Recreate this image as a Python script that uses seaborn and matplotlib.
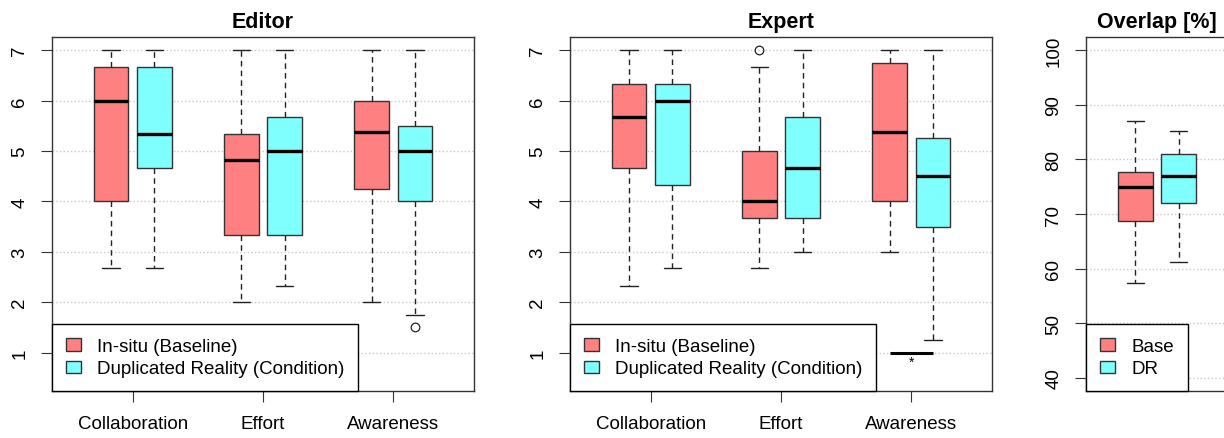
import numpy as np
import pandas as pd
import matplotlib
matplotlib.use("Agg")
import matplotlib.pyplot as plt
from matplotlib.patches import Patch
import seaborn as sns

# ---------------------------------------------------------------- data
categories = ["Collaboration", "Effort", "Awareness"]
groups = ["In-situ (Baseline)", "Duplicated Reality (Condition)"]
overlap_groups = ["Base", "DR"]

# five-number summaries: lower whisker, Q1, median, Q3, upper whisker
editor_insitu = [[2.67, 4.00, 6.00, 6.67, 7.00],
                 [2.00, 3.33, 4.83, 5.33, 7.00],
                 [2.00, 4.25, 5.38, 6.00, 7.00]]
editor_dr = [[2.67, 4.67, 5.33, 6.67, 7.00],
             [2.33, 3.33, 5.00, 5.67, 7.00],
             [1.75, 4.00, 5.00, 5.50, 7.00]]
editor_outlier_cat = ["Awareness"]
editor_outlier_grp = [1]
editor_outlier_val = [1.5]

expert_insitu = [[2.33, 4.67, 5.67, 6.33, 7.00],
                 [2.67, 3.67, 4.00, 5.00, 6.67],
                 [3.00, 4.00, 5.38, 6.75, 7.00]]
expert_dr = [[2.67, 4.33, 6.00, 6.33, 7.00],
             [3.00, 3.67, 4.67, 5.67, 7.00],
             [1.25, 3.50, 4.50, 5.25, 7.00]]
expert_outlier_cat = ["Effort"]
expert_outlier_grp = [0]
expert_outlier_val = [7.0]
expert_sig_cat = "Awareness"
expert_sig_level = 1.0

overlap_base = [57.4, 68.7, 75.0, 77.6, 87.0]
overlap_dr = [61.2, 72.1, 77.0, 80.9, 85.2]

# ---------------------------------------------------------------- style
sns.set_style("ticks")
plt.rcParams["font.family"] = ["Liberation Sans", "DejaVu Sans"]
plt.rcParams["text.color"] = "black"

RED = "#FF8080"
CYAN = "#80FFFF"
EDGE = "#333333"
FS = 13.5
WIDTH = 2 / 3
GAP = 0.2
OFFSET = WIDTH / 4  # centre of each hue box relative to its category


def long_frame(cats, grps, series):
    rows = []
    for gi, g in enumerate(grps):
        for ci, c in enumerate(cats):
            for v in series[gi][ci]:
                rows.append({"category": c, "group": g, "value": v})
    return pd.DataFrame(rows)


def draw_boxes(ax, df, cats, grps):
    sns.boxplot(data=df, x="category", y="value", hue="group",
                order=cats, hue_order=grps, palette=[RED, CYAN],
                width=WIDTH, gap=GAP, whis=(0, 100), showfliers=False,
                saturation=1, linewidth=1.0, linecolor=EDGE,
                medianprops=dict(color="black", linewidth=2.4),
                whiskerprops=dict(linestyle=(0, (4, 3)), linewidth=1.0, color="#222222"),
                capprops=dict(linewidth=1.0, color="#222222"),
                legend=False, ax=ax)


def style_axes(ax, title, yticks, ylim, xlim):
    ax.set_xlim(*xlim)
    ax.set_ylim(*ylim)
    ax.set_yticks(yticks)
    ax.set_yticklabels([str(t) for t in yticks])
    ax.yaxis.grid(True, linestyle=":", color="#C8C8C8", linewidth=1.0)
    ax.xaxis.grid(False)
    ax.set_axisbelow(True)
    ax.set_xlabel("")
    ax.set_ylabel("")
    ax.set_title(title, fontsize=15.5, fontweight="bold", pad=7, color="black")
    for s in ax.spines.values():
        s.set_visible(True)
        s.set_color(EDGE)
        s.set_linewidth(1.0)
    ax.tick_params(axis="both", direction="out", length=8, width=0.8,
                   color=EDGE, labelsize=FS, labelcolor="black")
    ax.tick_params(axis="y", labelrotation=90, pad=9)
    ax.tick_params(axis="x", pad=9.5)
    for lbl in ax.get_yticklabels():
        lbl.set_va("center")


def add_legend(ax, labels):
    handles = [Patch(facecolor=c, edgecolor=EDGE, linewidth=1.0) for c in (RED, CYAN)]
    leg = ax.legend(handles, labels, loc="lower left", bbox_to_anchor=(0, 0),
                    borderaxespad=0, fontsize=FS, frameon=True, fancybox=False,
                    framealpha=1, edgecolor="black", handlelength=0.8,
                    handleheight=0.65, handletextpad=0.9, borderpad=0.72,
                    labelspacing=0.3)
    leg.get_frame().set_linewidth(1.0)
    leg.set_zorder(5)


def add_outliers(ax, cats, cat_list, grp_list, vals):
    for c, g, v in zip(cat_list, grp_list, vals):
        x = cats.index(c) + (OFFSET if g == 1 else -OFFSET)
        ax.plot([x], [v], marker="o", linestyle="none", markersize=6.2,
                markerfacecolor="none", markeredgecolor="#222222",
                markeredgewidth=0.9, zorder=4)


# ---------------------------------------------------------------- figure
W, H = 1224, 439
fig = plt.figure(figsize=(W / 100, H / 100), dpi=100)
fig.patch.set_facecolor("white")


def rect(left, right, top=38, bottom=392):
    return [left / W, (H - bottom) / H, (right - left) / W, (bottom - top) / H]


ax1 = fig.add_axes(rect(52, 474))
ax2 = fig.add_axes(rect(570, 992))
ax3 = fig.add_axes(rect(1086, 1228))

ylim_score = (0.24, 7.26)
xlim_score = (-0.62, 2.62)
score_ticks = [1, 2, 3, 4, 5, 6, 7]

# Editor
draw_boxes(ax1, long_frame(categories, groups, [editor_insitu, editor_dr]),
           categories, groups)
add_outliers(ax1, categories, editor_outlier_cat, editor_outlier_grp, editor_outlier_val)
style_axes(ax1, "Editor", score_ticks, ylim_score, xlim_score)
add_legend(ax1, groups)

# Expert
draw_boxes(ax2, long_frame(categories, groups, [expert_insitu, expert_dr]),
           categories, groups)
add_outliers(ax2, categories, expert_outlier_cat, expert_outlier_grp, expert_outlier_val)
ci = categories.index(expert_sig_cat)
ax2.plot([ci - OFFSET, ci + OFFSET], [expert_sig_level, expert_sig_level],
         color="black", linewidth=2.2, solid_capstyle="butt", zorder=4)
ax2.text(ci, expert_sig_level - 0.05, "*", ha="center", va="top",
         fontsize=10, color="black", zorder=4)
style_axes(ax2, "Expert", score_ticks, ylim_score, xlim_score)
add_legend(ax2, groups)

# Overlap
overlap_cat = ["Overlap"]
draw_boxes(ax3, long_frame(overlap_cat, overlap_groups, [[overlap_base], [overlap_dr]]),
           overlap_cat, overlap_groups)
style_axes(ax3, "Overlap [%]", [40, 50, 60, 70, 80, 90, 100], (37.6, 102.4),
           (-0.545, 0.545))
ax3.set_xticks([])
add_legend(ax3, overlap_groups)

fig.savefig("out.png", dpi=100, facecolor="white")
